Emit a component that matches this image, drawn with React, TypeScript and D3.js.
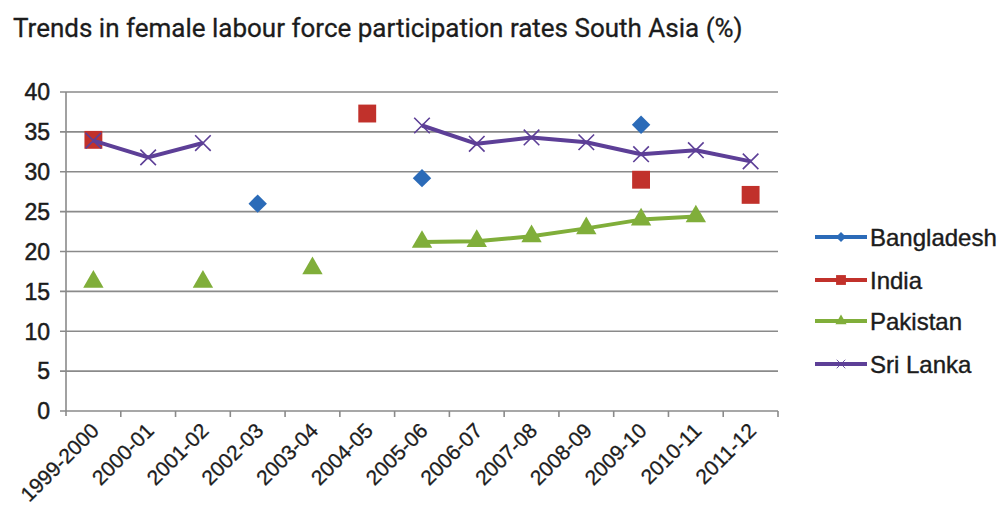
import React from "react";
import * as d3 from "d3";

const years = [
  "1999-2000", "2000-01", "2001-02", "2002-03", "2003-04", "2004-05", "2005-06",
  "2006-07", "2007-08", "2008-09", "2009-10", "2010-11", "2011-12",
];

// null = no survey that year
const bangladesh: (number | null)[] = [null, null, null, 26.0, null, null, 29.2, null, null, null, 35.9, null, null];
const india: (number | null)[] = [34.0, null, null, null, null, 37.3, null, null, null, null, 29.0, null, 27.1];
const pakistan: (number | null)[] = [16.2, null, 16.2, null, 17.9, null, 21.2, 21.3, 21.9, 22.9, 24.0, 24.4, null];
const sriLanka: (number | null)[] = [33.9, 31.8, 33.6, null, null, null, 35.8, 33.5, 34.3, 33.7, 32.2, 32.7, 31.3];

const yTicks = [0, 5, 10, 15, 20, 25, 30, 35, 40];

type Marker = "diamond" | "square" | "triangle" | "cross";

const series: { name: string; values: (number | null)[]; color: string; marker: Marker }[] = [
  { name: "Bangladesh", values: bangladesh, color: "#2b6bb8", marker: "diamond" },
  { name: "India", values: india, color: "#c1312b", marker: "square" },
  { name: "Pakistan", values: pakistan, color: "#80ae3a", marker: "triangle" },
  { name: "Sri Lanka", values: sriLanka, color: "#5d3f97", marker: "cross" },
];

const W = 1005;
const H = 506;
const left = 66;
const right = 778;
const top = 92;
const bottom = 411;

const x = d3.scaleBand<string>().domain(years).range([left, right]);
const y = d3.scaleLinear().domain([0, 40]).range([bottom, top]);

// square rotated 45deg gives an even diamond
const sym = {
  diamond: d3.symbol(d3.symbolSquare, 170),
  square: d3.symbol(d3.symbolSquare, 320),
  triangle: d3.symbol(d3.symbolTriangle, 180),
  cross: d3.symbol(d3.symbolTimes, 160),
};

function MarkerShape({ kind, color, cx, cy, scale = 1 }: { kind: Marker; color: string; cx: number; cy: number; scale?: number }) {
  const d = sym[kind]() as string;
  const rot = kind === "diamond" ? " rotate(45)" : "";
  const tr = `translate(${cx},${cy}) scale(${scale})${rot}`;
  if (kind === "cross") {
    return <path d={d} transform={tr} fill="none" stroke={color} strokeWidth={1.6} />;
  }
  return <path d={d} transform={tr} fill={color} />;
}

export default function App() {
  const line = d3
    .line<number | null>()
    .defined((v) => v !== null)
    .x((_, i) => (x(years[i]) as number) + x.bandwidth() / 2)
    .y((v) => y(v as number));

  const font = "'Liberation Sans', Arial, sans-serif";
  const legendY = [237, 280, 321, 364];
  const ink = "#1c1c1c";

  return (
    <svg width={W} height={H} style={{ position: "absolute", left: 0, top: 0, background: "#fff" }}>
      <text x={13} y={37} fontFamily="Roboto, sans-serif" fontSize={26} fill={ink} stroke={ink} strokeWidth={0.3}>
        Trends in female labour force participation rates South Asia (%)
      </text>

      {/* gridlines and y labels */}
      {yTicks.map((t) => (
        <g key={t}>
          <line x1={left - 6} x2={right} y1={y(t)} y2={y(t)} stroke="#8a8a8a" strokeWidth={1.6} />
          <text
            x={left - 16}
            y={y(t)}
            dy="0.36em"
            textAnchor="end"
            fontFamily={font}
            fontSize={23}
            fill={ink}
            stroke={ink}
            strokeWidth={0.5}
          >
            {t}
          </text>
        </g>
      ))}
      <line x1={left} x2={left} y1={top} y2={bottom + 5} stroke="#8a8a8a" strokeWidth={1.6} />

      {/* x tick marks at category boundaries */}
      {years.map((yr) => (
        <line
          key={yr}
          x1={(x(yr) as number) + x.bandwidth()}
          x2={(x(yr) as number) + x.bandwidth()}
          y1={bottom}
          y2={bottom + 6}
          stroke="#8a8a8a"
          strokeWidth={1.6}
        />
      ))}
      {years.map((yr) => {
        const cx = (x(yr) as number) + x.bandwidth() / 2 + 7;
        const cy = bottom + 21;
        return (
          <text
            key={yr}
            transform={`translate(${cx},${cy}) rotate(-45)`}
            textAnchor="end"
            fontFamily={font}
            fontSize={21}
            fill={ink}
            stroke={ink}
            strokeWidth={0.3}
          >
            {yr}
          </text>
        );
      })}

      {/* series */}
      {series.map((s) => (
        <g key={s.name}>
          <path d={line(s.values) as string} fill="none" stroke={s.color} strokeWidth={4} strokeLinejoin="round" />
          {s.values.map((v, i) =>
            v === null ? null : (
              <MarkerShape
                key={i}
                kind={s.marker}
                color={s.color}
                cx={(x(years[i]) as number) + x.bandwidth() / 2}
                cy={y(v)}
              />
            )
          )}
        </g>
      ))}

      {/* legend */}
      {series.map((s, i) => (
        <g key={s.name} transform={`translate(815,${legendY[i]})`}>
          <line x1={0} x2={52} y1={0} y2={0} stroke={s.color} strokeWidth={4} />
          <MarkerShape kind={s.marker} color={s.color} cx={26} cy={0} scale={0.55} />
          <text
            x={55}
            y={0}
            dy="0.36em"
            fontFamily={font}
            fontSize={24}
            fill={ink}
            stroke={ink}
            strokeWidth={0.4}
          >
            {s.name}
          </text>
        </g>
      ))}
    </svg>
  );
}
